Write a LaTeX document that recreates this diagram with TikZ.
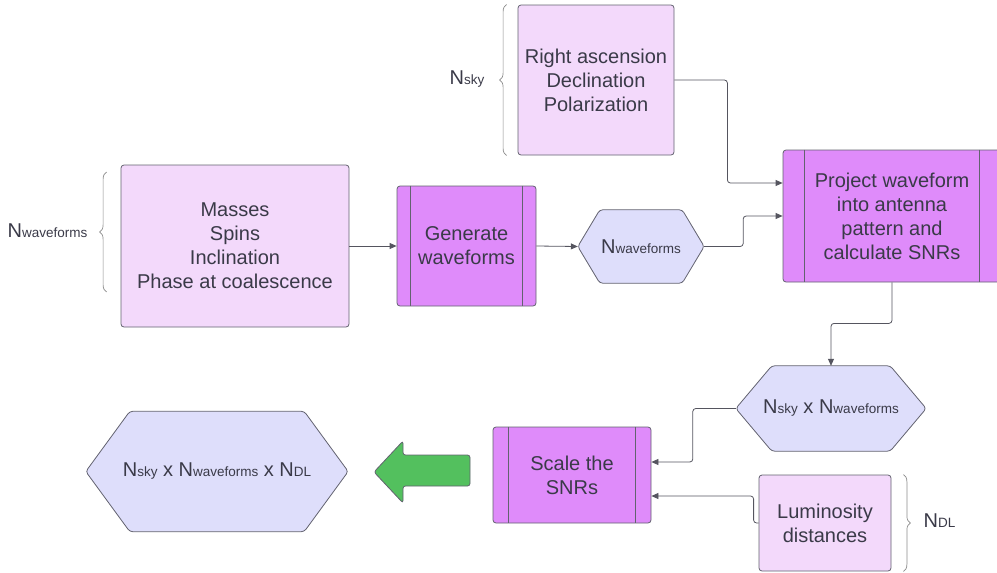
\documentclass[tikz,border=0pt]{standalone}
\usepackage{fontspec}
\setmainfont{Liberation Sans}
\usetikzlibrary{arrows.meta,decorations.pathreplacing,calc}
\definecolor{lpink}{HTML}{F3D9FB}
\definecolor{violetc}{HTML}{DF8BFA}
\definecolor{lav}{HTML}{DEDEFB}
\definecolor{edgec}{HTML}{62626F}
\definecolor{linec}{HTML}{55555F}
\definecolor{txtc}{HTML}{3A3A48}
\definecolor{bracec}{HTML}{8A8A8A}
\definecolor{greenc}{HTML}{53C05E}
\pgfdeclarelayer{bg}
\pgfsetlayers{bg,main}
\newcommand{\Nl}[1]{N{\fontsize{13.5}{13.5}\selectfont #1}}
\newcommand{\mainfs}{\fontsize{20}{24}\selectfont}
\newcommand{\drawhex}[2]{%
  \begin{pgfonlayer}{bg}
  \draw[hexshape] (#1.west) -- ([xshift=#2]#1.north west) -- ([xshift=-#2]#1.north east)
    -- (#1.east) -- ([xshift=-#2]#1.south east) -- ([xshift=#2]#1.south west) -- cycle;
  \end{pgfonlayer}}
\begin{document}
\begin{tikzpicture}[x=1pt,y=-1pt,
  box/.style={draw=edgec, line width=0.8pt, rounded corners=3pt, inner sep=0pt,
    align=center, font=\mainfs, text=txtc},
  lightbox/.style={box, fill=lpink},
  procbox/.style={box, fill=violetc},
  hexnode/.style={inner sep=0pt, align=center, font=\mainfs, text=txtc},
  hexshape/.style={draw=edgec, line width=0.8pt, fill=lav, rounded corners=3pt},
  inner/.style={draw=edgec, line width=0.8pt},
  conn/.style={draw=linec, line width=0.8pt, rounded corners=3pt,
    -{Triangle[length=7pt,width=6pt]}},
  bracestyle/.style={draw=bracec, line width=0.7pt, decorate,
    decoration={brace, amplitude=7pt}},
  lab/.style={font=\mainfs, text=txtc, inner sep=0pt}
]
\useasboundingbox (0,0) rectangle (997,573);
\clip (0,0) rectangle (997,573);

% boxes
\node[lightbox, minimum width=228pt, minimum height=162pt] (m) at (235,246)
  {Masses\\Spins\\Inclination\\Phase at coalescence};
\node[procbox, minimum width=139pt, minimum height=120pt] (g) at (466.5,246)
  {Generate\\waveforms};
\draw[inner] ([xshift=14pt]g.north west) -- ([xshift=14pt]g.south west);
\draw[inner] ([xshift=-14pt]g.north east) -- ([xshift=-14pt]g.south east);

\node[hexnode, minimum width=126pt, minimum height=73pt] (h1) at (641,246.5) {\Nl{waveforms}};
\drawhex{h1}{22pt}

\node[lightbox, minimum width=156pt, minimum height=150pt] (r) at (596,80)
  {Right ascension\\Declination\\Polarization};

\node[procbox, minimum width=218pt, minimum height=132pt] (p) at (892,216)
  {Project waveform\\into antenna\\pattern and\\calculate SNRs};
\draw[inner] ([xshift=22pt]p.north west) -- ([xshift=22pt]p.south west);
\draw[inner] ([xshift=-22pt]p.north east) -- ([xshift=-22pt]p.south east);

\node[hexnode, minimum width=190pt, minimum height=85pt] (h2) at (831,408.5) {\Nl{sky} x \Nl{waveforms}};
\drawhex{h2}{36pt}

\node[procbox, minimum width=158pt, minimum height=96pt] (s) at (572,475)
  {Scale the\\SNRs};
\draw[inner] ([xshift=16pt]s.north west) -- ([xshift=16pt]s.south west);
\draw[inner] ([xshift=-16pt]s.north east) -- ([xshift=-16pt]s.south east);

\node[lightbox, minimum width=132pt, minimum height=96pt] (l) at (825,523)
  {Luminosity\\distances};

\node[hexnode, minimum width=262pt, minimum height=120pt] (h3) at (217,471.5)
  {\Nl{sky} x \Nl{waveforms} x \Nl{DL}};
\drawhex{h3}{44pt}

% green arrow
\draw[draw=edgec, line width=0.8pt, fill=greenc, rounded corners=2.5pt]
  (374,472) -- (403,441) -- (403,455) -- (470,455) -- (470,486) -- (403,486) -- (403,503) -- cycle;

% connectors
\draw[conn] (m.east) -- (g.west);
\draw[conn] (g.east) -- (h1.west);
\draw[conn] (h1.east) -- ++(39,0) |- (p.west);
\draw[conn] (r.east) -- ++(53,0) |- ([yshift=33pt]p.west);
\draw[conn] (p.south) -- ++(0,41) -| (h2.north);
\draw[conn] (h2.west) -- ++(-43,0) |- ([yshift=13pt]s.east);
\draw[conn] (l.west) -- ++(-5,0) |- ([yshift=-21pt]s.east);

% braces and labels
\draw[bracestyle] ([xshift=-14pt]m.west |- 0,292) -- ([xshift=-14pt]m.west |- 0,172);
\node[lab, anchor=east] (lm) at ([xshift=-33pt]m.west |- 0,231) {\Nl{waveforms}};

\draw[bracestyle] ([xshift=-11pt]r.south west) -- ([xshift=-11pt]r.north west);
\node[lab, anchor=east] (lr) at ([xshift=-33pt]r.west |- 0,79) {\Nl{sky}};

\draw[bracestyle] ([xshift=12pt]l.north east) -- ([xshift=12pt]l.south east);
\node[lab, anchor=west] (ll) at ([xshift=32pt]l.east |- 0,521) {\Nl{DL}};
\end{tikzpicture}
\end{document}
